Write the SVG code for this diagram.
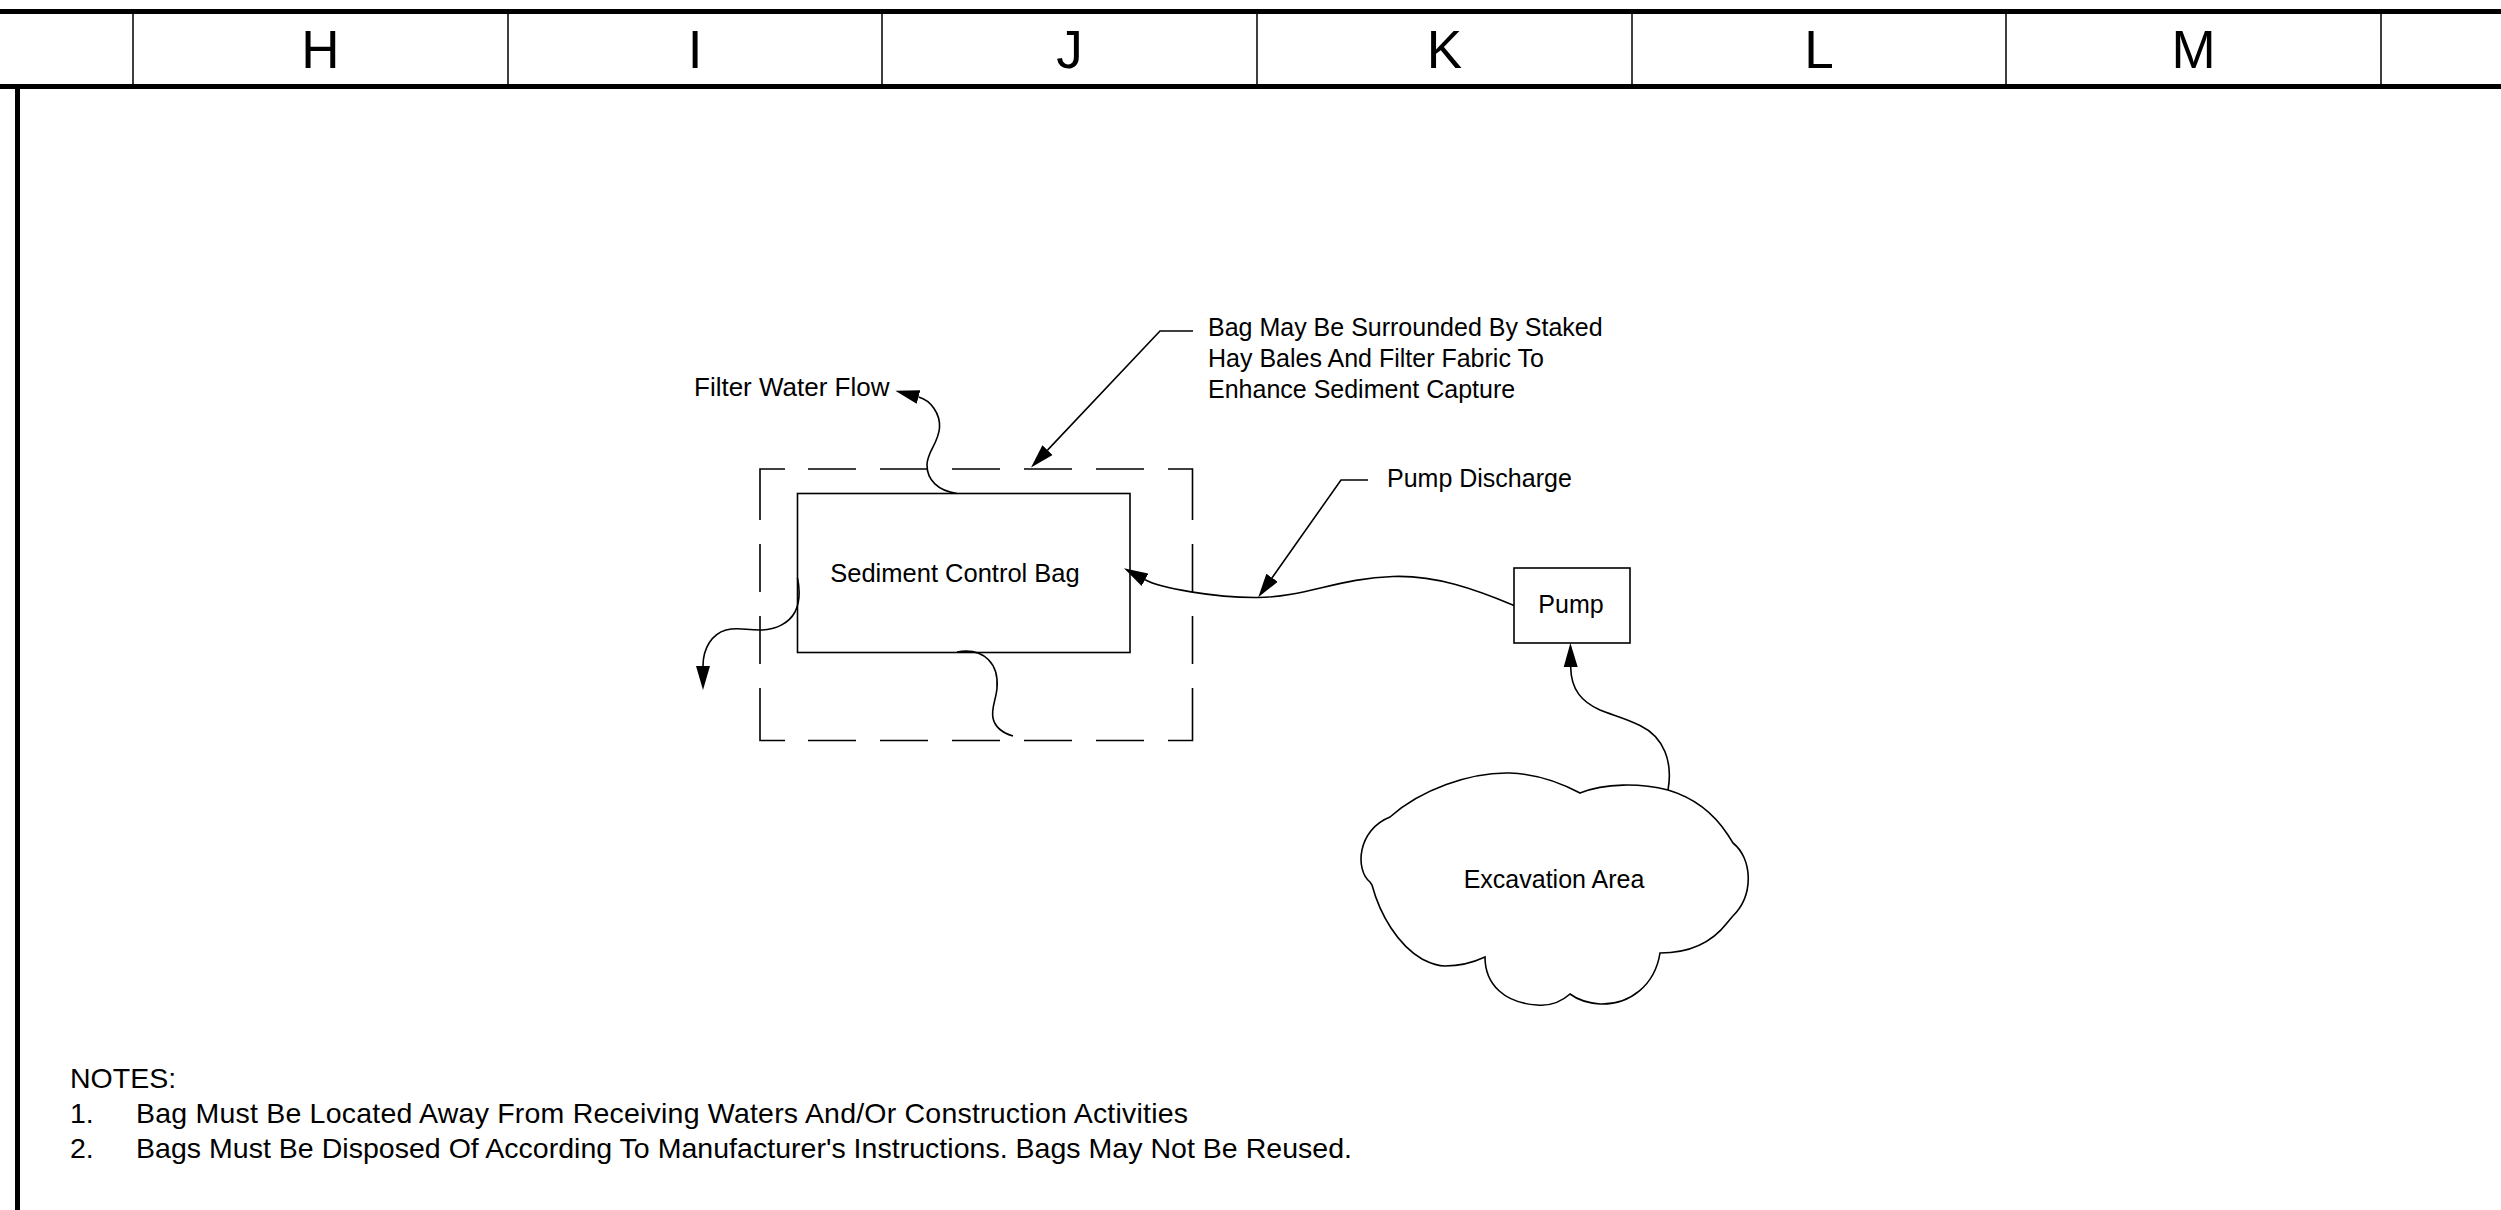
<svg xmlns="http://www.w3.org/2000/svg" width="2501" height="1210" viewBox="0 0 2501 1210">
<style>
.frame{stroke:#000;stroke-width:5;fill:none}
.col{stroke:#000;stroke-width:1.5;fill:none}
.hdr{font-family:"Liberation Sans",Arial,sans-serif;font-size:53px;fill:#000;text-anchor:middle}
.box{stroke:#000;stroke-width:1.6;fill:#fff}
.dash{stroke:#000;stroke-width:1.6;fill:none}
.ln{stroke:#000;stroke-width:1.6;fill:none}
.lbl{font-family:"Liberation Sans",Arial,sans-serif;font-size:25px;fill:#000}
.mid{text-anchor:middle}
.note{font-family:"Liberation Sans",Arial,sans-serif;font-size:28.5px;fill:#000}
</style>
<defs>
<marker id="ah" markerUnits="userSpaceOnUse" viewBox="0 -8 24 16" refX="0" refY="0" markerWidth="24" markerHeight="16" orient="auto">
<path d="M0,-7 L24,0 L0,7 Z" fill="#000"/>
</marker>
</defs>
<rect x="0" y="0" width="2501" height="1210" fill="#fff"/>
<g id="title-block">
<line class="frame" x1="0" y1="11.5" x2="2501" y2="11.5"/>
<line class="frame" x1="0" y1="86.5" x2="2501" y2="86.5"/>
<line class="frame" x1="17.5" y1="86.5" x2="17.5" y2="1210"/>
<path class="col" d="M133,14 V84 M508,14 V84 M882,14 V84 M1257,14 V84 M1632,14 V84 M2006,14 V84 M2381,14 V84"/>
<text class="hdr" x="320.5" y="68">H</text>
<text class="hdr" x="695" y="68">I</text>
<text class="hdr" x="1069.5" y="68">J</text>
<text class="hdr" x="1444.5" y="68">K</text>
<text class="hdr" x="1819" y="68">L</text>
<text class="hdr" x="2193.5" y="68">M</text>
</g>
<g id="hay-bale-boundary">
<path class="dash" d="M785,469 H760 V520 M808,469 H856 M880,469 H928 M952,469 H1000 M1024,469 H1072 M1096,469 H1144 M1168,469 H1192.5 V520 M760,544 V592 M760,616 V664 M1192.5,544 V592 M1192.5,616 V664 M760,688 V740.5 H785 M808,740.5 H856 M880,740.5 H928 M952,740.5 H1000 M1024,740.5 H1072 M1096,740.5 H1144 M1168,740.5 H1192.5 V688"/>
</g>
<g id="sediment-control-bag">
<rect class="box" x="797.5" y="493.5" width="332.5" height="159"/>
<text class="lbl mid" x="955" y="582" style="font-size:25.5px">Sediment Control Bag</text>
</g>
<g id="pump">
<rect class="box" x="1514" y="568" width="116" height="75"/>
<text class="lbl mid" x="1571" y="613">Pump</text>
</g>
<g id="excavation-area">
<path class="box" d="M1390,817 C1420,790 1470,772 1510,773 C1540,774 1565,785 1580,793 C1605,783 1640,783 1668,790 C1695,798 1715,815 1728,835 L1733,843 C1752,858 1755,895 1732,917 L1727,923 C1710,945 1685,953 1660,953 C1655,985 1630,1005 1600,1004 C1588,1003 1578,1000 1570,994 C1560,1003 1548,1006 1537,1005 C1505,1003 1485,985 1485,957 C1470,964 1455,966 1445,966 C1435,966 1428,962 1422,959 C1398,945 1380,915 1372,885 L1370,882 C1355,870 1357,830 1390,817 Z"/>
<text class="lbl mid" x="1554" y="888">Excavation Area</text>
</g>
<g id="connectors">
<path class="ln" marker-end="url(#ah)" d="M957,493.5 C938,491 927,480 927,465 C927,452 938,444 939.5,428 C940.5,414 931,400.5 918.5,397.1"/>
<path class="ln" marker-end="url(#ah)" d="M797.5,578 C800,590 800,602 795,612 C789,623 776,630 760,630 C745,630 738,627 726,630 C712,634 703,648 703,666"/>
<path class="ln" d="M957,652 C985,647 999,665 997,688 C996,700 991,708 993,718 C995,728 1003,733 1013,736"/>
<path class="ln" marker-end="url(#ah)" d="M1514,605.5 C1475,589 1435,575 1393,576.5 C1340,578 1305,597 1258,597.5 C1215,598 1160,588 1145,579.8"/>
<path class="ln" marker-end="url(#ah)" d="M1668,790 C1673,762 1664,737 1640,725.5 C1625,718 1612,715 1600,710 C1582,702 1571,690 1570.7,667"/>
<path class="ln" marker-end="url(#ah)" d="M1193,331 H1160 L1047.5,450.1"/>
<path class="ln" marker-end="url(#ah)" d="M1368,480 H1341 L1272.1,577.7"/>
</g>
<g id="labels">
<text class="lbl" x="694" y="396" style="font-size:26px">Filter Water Flow</text>
<text class="lbl" x="1208" y="336">Bag May Be Surrounded By Staked</text>
<text class="lbl" x="1208" y="367">Hay Bales And Filter Fabric To</text>
<text class="lbl" x="1208" y="398">Enhance Sediment Capture</text>
<text class="lbl" x="1387" y="487">Pump Discharge</text>
</g>
<g id="notes">
<text class="note" x="70" y="1088">NOTES:</text>
<text class="note" x="70" y="1123">1.</text>
<text class="note" x="136" y="1123" textLength="1052" lengthAdjust="spacing">Bag Must Be Located Away From Receiving Waters And/Or Construction Activities</text>
<text class="note" x="70" y="1158">2.</text>
<text class="note" x="136" y="1158" textLength="1216" lengthAdjust="spacing">Bags Must Be Disposed Of According To Manufacturer's Instructions. Bags May Not Be Reused.</text>
</g>
</svg>
